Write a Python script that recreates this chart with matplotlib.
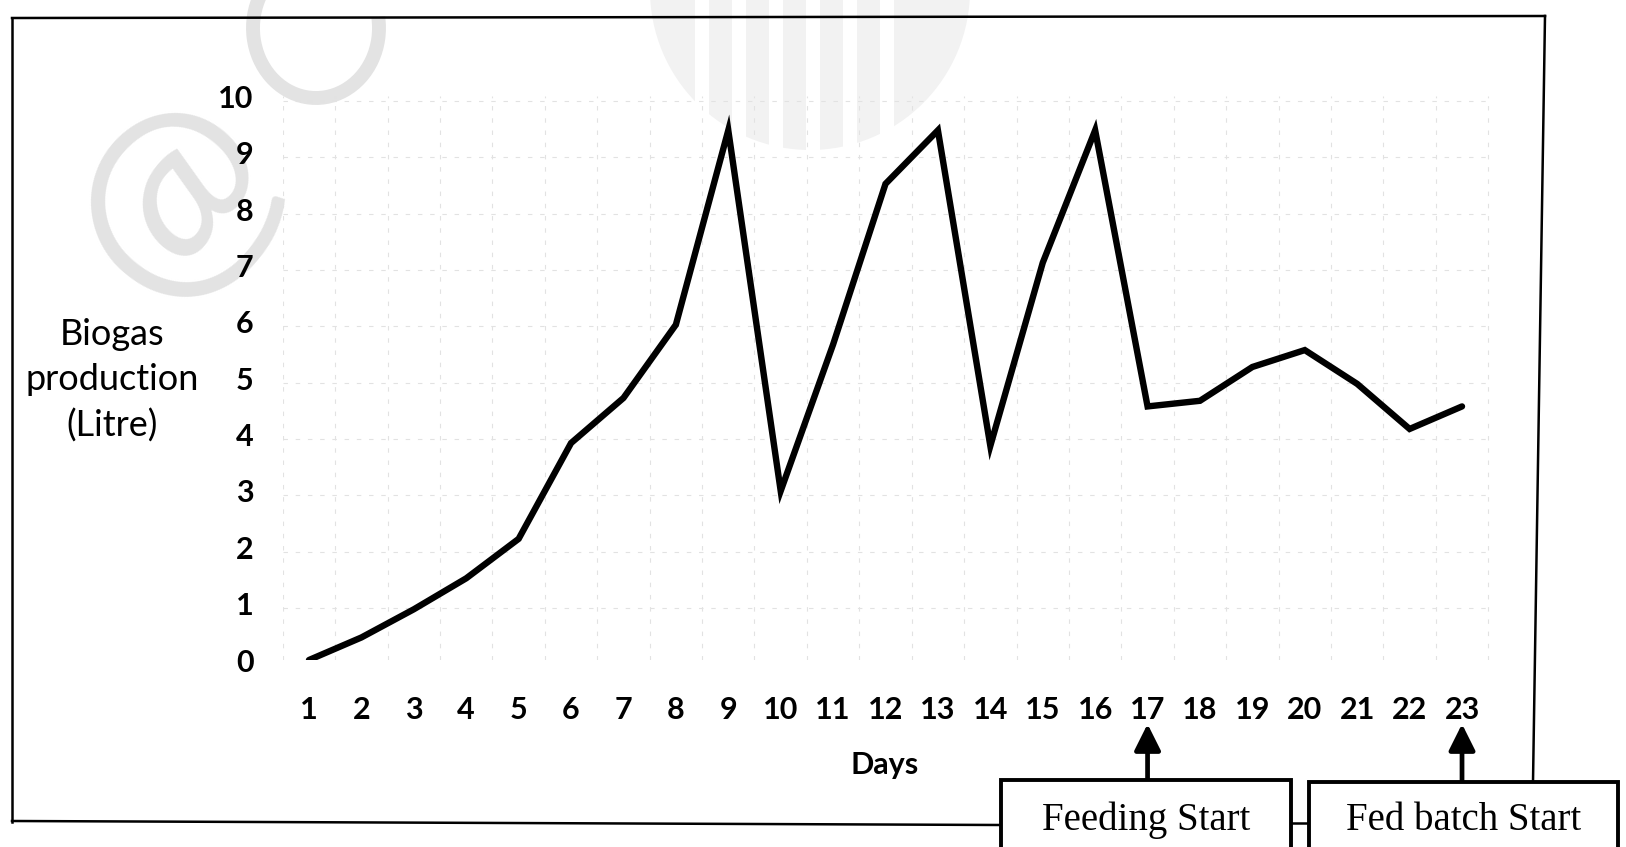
import matplotlib

matplotlib.use("Agg")
import matplotlib.pyplot as plt
from matplotlib.lines import Line2D
from matplotlib.patches import Arc, Rectangle, Wedge
from matplotlib.transforms import Affine2D

days = list(range(1, 24))
biogas = [0.0, 0.4, 0.9, 1.45, 2.15, 3.85, 4.65, 5.95, 9.4, 3.0, 5.6, 8.45,
          9.4, 3.8, 7.05, 9.4, 4.5, 4.6, 5.2, 5.5, 4.9, 4.1, 4.5]
y_ticks = list(range(0, 11))
events = [(17, "Feeding Start"), (23, "Fed batch Start")]

W, H = 1626, 847
SANS = ["Lato", "DejaVu Sans"]
SERIF = ["Liberation Serif", "DejaVu Serif"]

fig = plt.figure(figsize=(W / 100, H / 100), dpi=100)
# pixel coordinates measured from the top-left corner of the page
PX = Affine2D().scale(1 / 100, -1 / 100).translate(0, H / 100) + fig.dpi_scale_trans


def fy(y):
    return 1 - y / H


# faint stamp marks behind everything
fig.add_artist(Wedge((810, -10), 160, 0, 180, transform=PX, facecolor="#f2f2f2",
                     edgecolor="none", zorder=0))
for sx in range(695, 905, 37):
    fig.add_artist(Rectangle((sx, -10), 14, 160, transform=PX, facecolor="white",
                             edgecolor="none", zorder=0))
fig.text(176 / W, fy(198), "@", family=SANS, fontsize=168, color="#e3e3e3",
         rotation=50, ha="center", va="center", rotation_mode="anchor", zorder=0)
fig.add_artist(Arc((316, 28), 126, 140, angle=0, theta1=-10, theta2=280,
                   transform=PX, color="#e3e3e3", lw=10, zorder=0))

# plot area
x_left, x_right = 0.5, 23.55
px_left = 309 + (x_left - 1) * 52.41
px_right = 309 + (x_right - 1) * 52.41
px_bottom, px_top = 660, 96.5
ax = fig.add_axes([px_left / W, fy(px_bottom), (px_right - px_left) / W,
                   (px_bottom - px_top) / H])
ax.set_zorder(1)
ax.patch.set_alpha(0)
ax.set_xlim(x_left, x_right)
ax.set_ylim(0, 10)
for s in ax.spines.values():
    s.set_visible(False)

for gx in [d - 0.5 for d in days] + [23.5]:
    ax.axvline(gx, color="#e2e2e2", lw=0.8, dashes=(4, 7), zorder=1)
for gy in y_ticks:
    ax.axhline(gy - 0.08, color="#e2e2e2", lw=0.8, dashes=(4, 7), zorder=1)

ax.plot(days, biogas, color="black", lw=4.6, solid_joinstyle="miter",
        solid_capstyle="round", zorder=3)

ax.set_xticks(days)
ax.set_xticklabels([str(d) for d in days], family=SANS, fontweight="bold", fontsize=22)
ax.set_yticks(y_ticks)
ax.set_yticklabels([str(v) for v in y_ticks], family=SANS, fontweight="bold", fontsize=22)
ax.tick_params(axis="x", length=0, pad=26)
ax.tick_params(axis="y", length=0, pad=21)

ax.set_xlabel("Days", family=SANS, fontweight="bold", fontsize=22)
ax.xaxis.label.set_va("center")
ax.xaxis.set_label_coords((885 - px_left) / (px_right - px_left),
                          (px_bottom - 765) / (px_bottom - px_top))
ax.set_ylabel("Biogas\nproduction\n(Litre)", family=SANS, fontsize=26,
              rotation=0, ha="center", va="center", linespacing=1.45)
ax.yaxis.set_label_coords((112 - px_left) / (px_right - px_left),
                          (px_bottom - 380) / (px_bottom - px_top))

# outer frame of the figure panel
frame = [
    [(12, 18), (1545, 16)],
    [(12, 18), (12, 822)],
    [(12, 821), (1001, 825)],
    [(1545, 16), (1533, 782)],
    [(1291, 823), (1309, 823)],
]
for (x0, y0), (x1, y1) in frame:
    fig.add_artist(Line2D([x0, x1], [y0, y1], transform=PX, color="black", lw=1.8,
                          zorder=2))

# event boxes with arrows pointing at the day
boxes = [(1001, 780, 1291), (1309, 782, 1618)]
for (day, label), (bx0, btop, bx1) in zip(events, boxes):
    fig.add_artist(Rectangle((bx0, btop), bx1 - bx0, 120, transform=PX,
                             facecolor="white", edgecolor="black", lw=2.8, zorder=4))
    ax.annotate("", xy=(day, fy(724)), xycoords=("data", "figure fraction"),
                xytext=(day, fy(btop)), textcoords=("data", "figure fraction"),
                arrowprops=dict(arrowstyle="-|>", lw=3.4, color="black",
                                mutation_scale=40, shrinkA=0, shrinkB=0),
                annotation_clip=False)
    fig.text((bx0 + bx1) / 2 / W, fy(820), label, ha="center", va="center",
             family=SERIF, fontsize=28, zorder=5)

fig.savefig("out.png", dpi=100, facecolor="white")
